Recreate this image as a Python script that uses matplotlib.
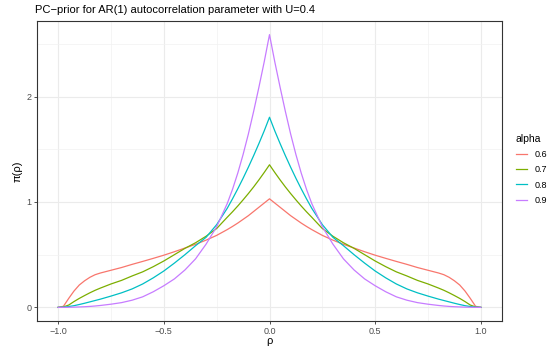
import matplotlib
matplotlib.use('Agg')
import matplotlib.pyplot as plt
from matplotlib.ticker import MultipleLocator

plt.rcParams['font.family'] = ['Liberation Sans', 'DejaVu Sans']

# values
rho = [-1.0, -0.975, -0.95, -0.925, -0.9, -0.875, -0.85, -0.825, -0.8, -0.75, -0.7, -0.65,
       -0.6, -0.55, -0.5, -0.45, -0.4, -0.35, -0.3, -0.25, -0.2, -0.175, -0.15, -0.125,
       -0.1, -0.075, -0.05, -0.025, 0.0, 0.025, 0.05, 0.075, 0.1, 0.125, 0.15, 0.175,
       0.2, 0.25, 0.3, 0.35, 0.4, 0.45, 0.5, 0.55, 0.6, 0.65, 0.7, 0.75, 0.8, 0.825,
       0.85, 0.875, 0.9, 0.925, 0.95, 0.975, 1.0]

dens_06 = [0.0, 0.01, 0.085, 0.155, 0.212, 0.252, 0.285, 0.31, 0.326, 0.352, 0.378, 0.408,
           0.436, 0.465, 0.495, 0.528, 0.563, 0.598, 0.638, 0.683, 0.738, 0.768, 0.80, 0.835,
           0.87, 0.91, 0.95, 0.99, 1.03, 0.99, 0.95, 0.91, 0.87, 0.835, 0.80, 0.768,
           0.738, 0.683, 0.638, 0.598, 0.563, 0.528, 0.495, 0.465, 0.436, 0.408, 0.378, 0.352,
           0.326, 0.31, 0.285, 0.252, 0.212, 0.155, 0.085, 0.01, 0.0]

dens_07 = [0.0, 0.004, 0.022, 0.055, 0.085, 0.112, 0.138, 0.162, 0.183, 0.222, 0.256, 0.298,
           0.337, 0.386, 0.44, 0.50, 0.56, 0.613, 0.675, 0.748, 0.855, 0.907, 0.962, 1.02,
           1.08, 1.143, 1.21, 1.28, 1.353, 1.28, 1.21, 1.143, 1.08, 1.02, 0.962, 0.907,
           0.855, 0.748, 0.675, 0.613, 0.56, 0.50, 0.44, 0.386, 0.337, 0.298, 0.256, 0.222,
           0.183, 0.162, 0.138, 0.112, 0.085, 0.055, 0.022, 0.004, 0.0]

dens_08 = [0.0, 0.002, 0.008, 0.016, 0.027, 0.039, 0.052, 0.065, 0.078, 0.107, 0.138, 0.175,
           0.222, 0.28, 0.345, 0.42, 0.50, 0.585, 0.665, 0.785, 0.94, 1.03, 1.125, 1.225,
           1.33, 1.44, 1.555, 1.675, 1.804, 1.675, 1.555, 1.44, 1.33, 1.225, 1.125, 1.03,
           0.94, 0.785, 0.665, 0.585, 0.50, 0.42, 0.345, 0.28, 0.222, 0.175, 0.138, 0.107,
           0.078, 0.065, 0.052, 0.039, 0.027, 0.016, 0.008, 0.002, 0.0]

dens_09 = [0.0, 0.0, 0.001, 0.002, 0.004, 0.006, 0.009, 0.013, 0.018, 0.03, 0.045, 0.068,
           0.10, 0.148, 0.205, 0.27, 0.355, 0.46, 0.60, 0.765, 0.985, 1.12, 1.275, 1.45,
           1.645, 1.86, 2.09, 2.33, 2.588, 2.33, 2.09, 1.86, 1.645, 1.45, 1.275, 1.12,
           0.985, 0.765, 0.60, 0.46, 0.355, 0.27, 0.205, 0.148, 0.10, 0.068, 0.045, 0.03,
           0.018, 0.013, 0.009, 0.006, 0.004, 0.002, 0.001, 0.0, 0.0]

alphas = ['0.6', '0.7', '0.8', '0.9']
series = [dens_06, dens_07, dens_08, dens_09]
colors = ['#F8766D', '#7CAE00', '#00BFC4', '#C77CFF']

W, H = 548, 346
fig = plt.figure(figsize=(W / 100, H / 100), dpi=100)
ax = fig.add_axes([37 / W, 1 - 321 / H, 465 / W, 300 / H])

for a, vals, c in zip(alphas, series, colors):
    ax.plot(rho, vals, color=c, lw=0.9, label=a)

ax.set_xlim(-1.1, 1.1)
ax.set_ylim(-0.1294, 2.7174)
ax.xaxis.set_minor_locator(MultipleLocator(0.25))
ax.yaxis.set_minor_locator(MultipleLocator(0.5))
ax.set_xticks([-1, -0.5, 0, 0.5, 1])
ax.set_xticklabels(['\u22121.0', '\u22120.5', '0.0', '0.5', '1.0'])
ax.set_yticks([0, 1, 2])
ax.set_yticklabels(['0', '1', '2'])

ax.grid(which='major', color='#EBEBEB', lw=0.8)
ax.grid(which='minor', color='#F2F2F2', lw=0.5)
ax.set_axisbelow(True)
ax.tick_params(which='major', labelsize=6.5, labelcolor='#4D4D4D', color='#333333',
               length=2.5, width=0.6, pad=1.5)
ax.tick_params(which='minor', length=0)
for sp in ax.spines.values():
    sp.set_color('#333333')
    sp.set_linewidth(0.8)

ax.set_xlabel('\u03c1', fontsize=8, labelpad=0)
ax.set_ylabel('\u03c0(\u03c1)', fontsize=8, labelpad=3)

fig.text(35 / W, 1 - 10 / H, 'PC\u2212prior for AR(1) autocorrelation parameter with U=0.4',
         fontsize=8.0, ha='left', va='center')

leg = ax.legend(title='alpha', loc='center left', bbox_to_anchor=(1.012, 0.505),
                frameon=False, fontsize=6.5, title_fontsize=7.5, handlelength=1.22,
                handletextpad=0.9, labelspacing=0.68, alignment='left')

fig.savefig('out.png', dpi=100)
